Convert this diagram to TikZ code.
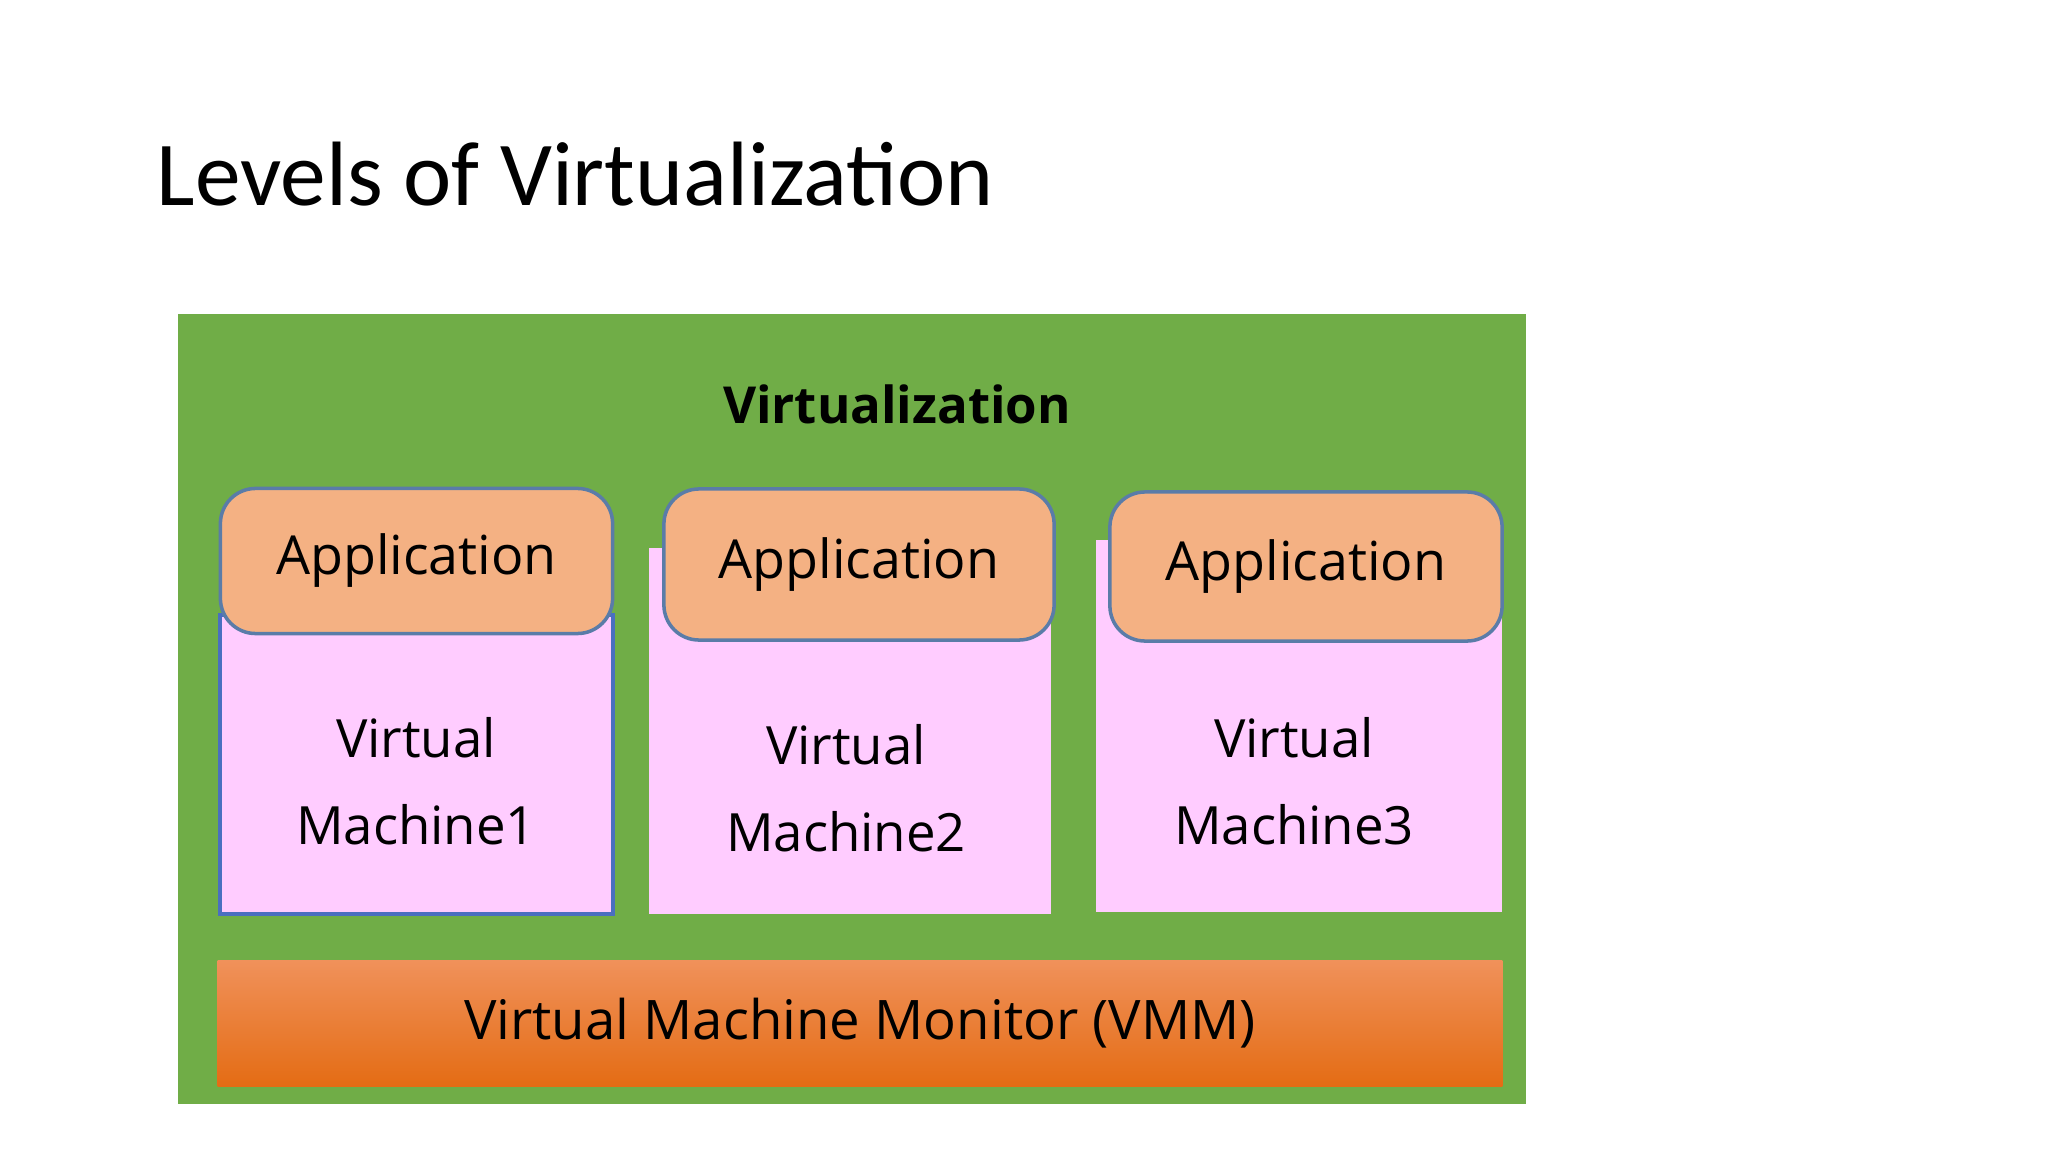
\documentclass[tikz,border=0pt]{standalone}
\usepackage{fontspec}
\setmainfont{Open Sans}
\newfontfamily\titlefont{Carlito}
\usetikzlibrary{positioning}
\definecolor{virtgreen}{HTML}{70AD47}
\definecolor{appbg}{HTML}{F4B183}
\definecolor{appborder}{HTML}{5A7CA8}
\definecolor{vmbg}{HTML}{FFCCFF}
\definecolor{vmborder}{HTML}{4A6FC0}
\definecolor{vmmtop}{HTML}{F0915A}
\definecolor{vmmbottom}{HTML}{E46C14}

\begin{document}
\begin{tikzpicture}[
    x=0.01cm, y=-0.01cm,
    app/.style={
        draw=appborder, fill=appbg, rounded corners=10pt, line width=1pt,
        minimum width=3.92cm, minimum height=1.45cm,
        font=\fontsize{15.3}{18}\selectfont
    },
    vm/.style={fill=vmbg, inner sep=0pt},
    vmlabel/.style={align=center, font=\fontsize{15}{24.7}\selectfont},
]
\useasboundingbox (0,0) rectangle (2048,1152);

% Slide title
\node[anchor=base west, inner sep=0pt, font=\titlefont\fontsize{26}{30}\selectfont]
    (title) at (156,206) {Levels of Virtualization};

% Green background
\node[fill=virtgreen, minimum width=13.48cm, minimum height=7.90cm, inner sep=0pt]
    (virt) at (852,709) {};
\node[anchor=base, font=\bfseries\fontsize{14.5}{17}\selectfont]
    (virtlabel) at (897,424) {Virtualization};

% Virtual machines
\node[vm, draw=vmborder, line width=1pt, minimum width=3.93cm, minimum height=2.99cm]
    (vm1) at (416.5,764.5) {};
\node[vm, minimum width=4.02cm, minimum height=3.66cm]
    (vm2) at (850,731) {};
\node[vm, minimum width=4.06cm, minimum height=3.72cm]
    (vm3) at (1299,726) {};

\node[vmlabel] (vm1label) at (416,781) {Virtual\\Machine1};
\node[vmlabel] (vm2label) at (846,788) {Virtual\\Machine2};
\node[vmlabel] (vm3label) at (1294,781) {Virtual\\Machine3};

% Applications
\node[app] (app1) at (416.5,561) {Application};
\node[app, minimum height=1.51cm, minimum width=3.90cm] (app2) at (859,564.5) {Application};
\node[app, minimum height=1.49cm] (app3) at (1306,566.5) {Application};

% Virtual Machine Monitor
\node[top color=vmmtop, bottom color=vmmbottom, minimum width=12.84cm,
    minimum height=1.25cm, font=\fontsize{15.5}{18}\selectfont]
    (vmm) at (860,1023.5) {Virtual Machine Monitor (VMM)};

\end{tikzpicture}
\end{document}
